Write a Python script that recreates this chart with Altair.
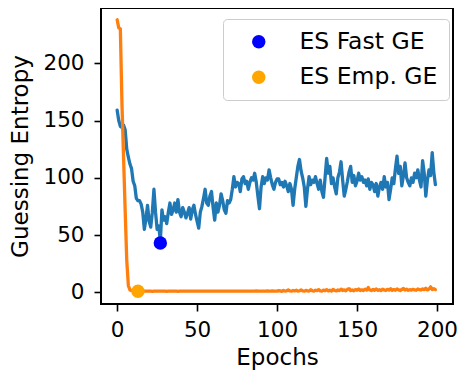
import altair as alt
import pandas as pd

epochs = list(range(200))

fast_ge = [
    159, 150, 145, 144, 146, 142, 125, 118, 112, 108,
    97, 93, 82, 80, 80, 77, 70, 55, 64, 76,
    62, 57, 70, 90, 70, 55, 58, 45, 72, 63,
    66, 60, 70, 78, 68, 72, 78, 70, 81, 70,
    66, 74, 70, 65, 69, 74, 64, 72, 76, 68,
    62, 56, 70, 75, 82, 90, 78, 76, 84, 88,
    74, 63, 78, 70, 76, 86, 80, 72, 69, 80,
    78, 81, 90, 101, 92, 96, 95, 88, 99, 101,
    95, 97, 90, 96, 100, 98, 104, 96, 84, 73,
    92, 101, 95, 100, 98, 107, 100, 94, 90, 96,
    99, 99, 94, 96, 92, 97, 93, 88, 95, 90,
    76, 90, 100, 110, 116, 106, 100, 92, 75, 90,
    101, 94, 98, 96, 101, 95, 90, 98, 88, 83,
    100, 117, 104, 110, 95, 100, 92, 86, 100, 105,
    114, 98, 84, 90, 97, 105, 110, 96, 102, 93,
    97, 104, 98, 101, 96, 98, 93, 99, 90, 96,
    94, 88, 95, 84, 92, 96, 90, 101, 92, 96,
    81, 90, 100, 95, 108, 119, 104, 110, 93, 102,
    113, 100, 96, 93, 100, 96, 104, 100, 107, 98,
    92, 115, 104, 84, 98, 107, 102, 122, 105, 94,
]

emp_ge = [
    238, 231, 230, 165, 118, 72, 28, 6, 2, 1.5,
    1.2, 1.0, 1.0, 1.1, 1.0, 1.0, 0.9, 1.0, 1.0, 1.0,
    1.0, 1.0, 0.9, 1.0, 1.0, 1.0, 1.0, 1.0, 1.0, 1.0,
    1.0, 0.9, 1.0, 1.0, 1.0, 1.0, 1.0, 1.0, 0.9, 1.0,
    1.0, 1.0, 1.0, 1.0, 1.0, 1.0, 1.0, 1.0, 1.0, 1.0,
    1.0, 1.0, 1.0, 1.0, 1.0, 1.0, 1.0, 1.0, 1.0, 1.0,
    1.0, 1.0, 1.0, 1.0, 1.0, 1.0, 1.0, 1.0, 1.0, 1.0,
    1.0, 1.0, 1.1, 1.0, 1.0, 1.0, 1.0, 1.0, 1.1, 1.0,
    1.0, 1.0, 1.0, 1.1, 1.0, 1.0, 1.0, 1.2, 1.0, 1.0,
    1.0, 1.1, 1.0, 1.0, 1.2, 1.0, 1.0, 1.3, 1.0, 1.0,
    1.1, 1.5, 1.2, 0.8, 1.6, 1.1, 1.3, 2.0, 1.2, 1.0,
    1.6, 1.2, 1.8, 1.0, 1.4, 2.1, 1.2, 1.0, 1.7, 1.3,
    1.1, 2.2, 1.4, 1.0, 1.8, 1.5, 2.4, 1.2, 1.0, 1.9,
    1.4, 2.3, 1.3, 1.8, 1.1, 2.5, 1.6, 1.2, 2.0, 1.5,
    2.8, 1.6, 2.2, 1.3, 2.6, 3.2, 1.5, 2.1, 1.4, 2.4,
    1.8, 2.9, 1.6, 2.2, 1.5, 2.7, 1.9, 4.2, 2.0, 1.6,
    2.5, 1.8, 3.0, 1.7, 2.3, 1.5, 2.8, 2.0, 1.6, 2.6,
    1.9, 3.1, 1.7, 2.4, 1.8, 2.9, 2.1, 1.6, 2.5, 3.3,
    2.0, 2.7, 1.8, 2.3, 1.9, 2.6, 2.2, 1.8, 2.9, 2.4,
    2.0, 3.0, 2.3, 3.6, 2.1, 2.8, 4.8, 2.5, 3.2, 2.4,
]

es_labels = ["ES Fast GE", "ES Emp. GE"]
es_epochs = [27, 13]
es_values = [43, 1]
es_colors = ["#0000ff", "#ffa500"]

df = pd.DataFrame({"epoch": epochs, "fast": fast_ge, "emp": emp_ge})
pts = pd.DataFrame({"label": es_labels, "epoch": es_epochs, "value": es_values})

FONT = "DejaVu Sans"

x_enc = alt.X(
    "epoch:Q",
    scale=alt.Scale(domain=[-10.1, 210], nice=False, zero=False),
    axis=alt.Axis(values=[0, 50, 100, 150, 200], title="Epochs"),
)
y_scale = alt.Scale(domain=[-10.2, 248.3], nice=False, zero=False)
y_axis = alt.Axis(values=[0, 50, 100, 150, 200], title="Guessing Entropy")

base = alt.Chart(df)
line_fast = base.mark_line(
    color="#1f77b4", strokeWidth=3.3, strokeJoin="round", strokeCap="round"
).encode(x=x_enc, y=alt.Y("fast:Q", scale=y_scale, axis=y_axis))
line_emp = base.mark_line(
    color="#ff7f0e", strokeWidth=3.3, strokeJoin="round", strokeCap="round"
).encode(x=x_enc, y=alt.Y("emp:Q", scale=y_scale, axis=y_axis))
dots = alt.Chart(pts).mark_point(filled=True, size=180, opacity=1).encode(
    x=x_enc,
    y=alt.Y("value:Q", scale=y_scale, axis=y_axis),
    color=alt.Color(
        "label:N",
        scale=alt.Scale(domain=es_labels, range=es_colors),
        sort=es_labels,
        legend=alt.Legend(
            title=None,
            orient="none",
            legendX=122,
            legendY=11,
            symbolType="circle",
            symbolSize=180,
            symbolStrokeWidth=0,
            labelFont=FONT,
            labelFontSize=23.5,
            labelColor="black",
            strokeColor="#cccccc",
            fillColor="white",
            cornerRadius=4,
            padding=11,
            rowPadding=10.5,
            symbolOffset=13,
            labelOffset=29,
        ),
    ),
)

chart = (
    alt.layer(line_fast, line_emp, dots)
    .properties(
        width=352,
        height=296,
        autosize=alt.AutoSizeParams(type="none"),
        padding={"left": 93, "top": 0, "right": 5, "bottom": 67},
    )
    .configure_view(stroke="black", strokeWidth=2)
    .configure_axis(
        domain=False,
        grid=False,
        ticks=True,
        tickColor="black",
        tickWidth=1.6,
        tickSize=7,
        labelFont=FONT,
        labelFontSize=21.5,
        labelColor="black",
        titleFont=FONT,
        titleFontSize=23,
        titleFontWeight="normal",
        titleColor="black",
    )
    .configure_axisX(labelPadding=8, titlePadding=5.5)
    .configure_axisY(labelPadding=10, titlePadding=10)
)

chart.save("out.html", embed_options={"renderer": "svg", "actions": False})
